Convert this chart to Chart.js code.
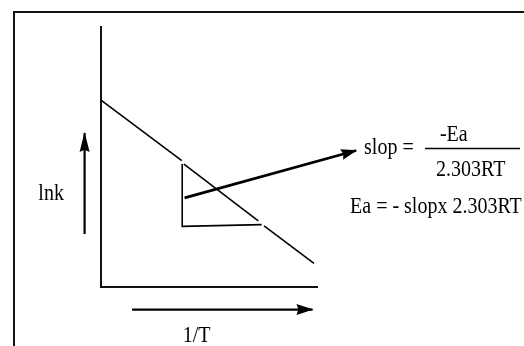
<!DOCTYPE html>
<html>
<head>
<meta charset="utf-8">
<script src="https://cdn.jsdelivr.net/npm/chart.js@4.4.1/dist/chart.umd.min.js"></script>
<style>
  html, body { margin: 0; padding: 0; background: #fff; overflow: hidden; }
  #wrap { position: relative; width: 524px; height: 346px; }
  #frame { position: absolute; left: 13px; top: 11px; width: 600px; height: 400px;
           border-left: 2px solid #111; border-top: 2px solid #111; pointer-events: none; }
</style>
</head>
<body>
<div id="wrap">
  <canvas id="arrhenius_chart" width="524" height="346"></canvas>
  <div id="frame"></div>
</div>
<script>
// Línea de Arrhenius: lnk frente a 1/T
const lineX = [0, 3.74, 3.84, 7.28, 7.55, 9.86];
const lineY = [7.19, 4.86, 4.73, 2.54, 2.35, 0.91];
const gapSegments = [1, 3]; // huecos donde toca el triángulo

// Triángulo de la pendiente
const triangleX = [3.76, 3.76, 7.44];
const triangleY = [4.73, 2.33, 2.40];

// Flechas
const slopeArrowX = [3.87, 11.81];
const slopeArrowY = [3.43, 5.25];
const yArrowX = [-0.76, -0.76];
const yArrowY = [2.04, 5.92];
const xArrowX = [1.44, 9.79];
const xArrowY = [-0.87, -0.87];

// Textos
const yLabel = 'lnk';
const xLabel = '1/T';
const slopeText = 'slop =';
const numeratorText = '-Ea';
const denominatorText = '2.303RT';
const eaText = 'Ea = - slopx 2.303RT';

const toPoints = (xs, ys) => xs.map((x, i) => ({x: x, y: ys[i]}));
const FONT = '20px "Liberation Serif", "Times New Roman", serif';
const STRETCH = 1.16; // el texto original está un poco alargado en vertical

const lineStyle = (width) => ({
    showLine: true,
    pointRadius: 0,
    borderColor: '#000',
    backgroundColor: '#000',
    borderWidth: width,
    clip: false,
    tension: 0
});

// Puntas de flecha dibujadas con la dirección del último tramo
const arrowHeads = {
    id: 'arrowHeads',
    afterDatasetsDraw(chart) {
        const ctx = chart.ctx;
        chart.data.datasets.forEach((ds, i) => {
            if (!ds.arrow) return;
            const pts = chart.getDatasetMeta(i).data;
            const a = pts[pts.length - 2], b = pts[pts.length - 1];
            const ang = Math.atan2(b.y - a.y, b.x - a.x);
            const len = ds.arrow.len, half = ds.arrow.half;
            ctx.save();
            ctx.translate(b.x, b.y);
            ctx.rotate(ang);
            ctx.fillStyle = '#000';
            ctx.beginPath();
            ctx.moveTo(1, 0);
            ctx.lineTo(-len, -half);
            ctx.lineTo(-len * 0.88, 0);
            ctx.lineTo(-len, half);
            ctx.closePath();
            ctx.fill();
            ctx.restore();
        });
    }
};

// Etiquetas y fórmula
const labels = {
    id: 'labels',
    afterDraw(chart) {
        const ctx = chart.ctx;
        const sx = chart.scales.x, sy = chart.scales.y;
        const px = v => sx.getPixelForValue(v);
        const py = v => sy.getPixelForValue(v);
        const text = (str, x, y) => {
            ctx.save();
            ctx.translate(px(x), py(y));
            ctx.scale(1, STRETCH);
            ctx.fillText(str, 0, 0);
            ctx.restore();
        };
        ctx.save();
        ctx.fillStyle = '#000';
        ctx.font = FONT;
        ctx.textBaseline = 'alphabetic';
        ctx.textAlign = 'left';
        text(yLabel, -2.90, 3.35);
        text(xLabel, 3.78, -2.12);
        text(slopeText, 12.18, 5.13);
        text(numeratorText, 15.69, 5.62);
        text(denominatorText, 15.51, 4.27);
        text(eaText, 11.53, 2.85);
        // barra de la fracción
        ctx.strokeStyle = '#000';
        ctx.lineWidth = 1.5;
        ctx.beginPath();
        ctx.moveTo(px(15.0), py(5.33));
        ctx.lineTo(px(19.4), py(5.33));
        ctx.stroke();
        ctx.restore();
    }
};

const ctxArrhenius = document.getElementById('arrhenius_chart').getContext('2d');
const arrheniusChart = new Chart(ctxArrhenius, {
    type: 'scatter',
    data: {
        datasets: [
            Object.assign(lineStyle(1.6), {
                label: 'lnk',
                data: toPoints(lineX, lineY),
                segment: {
                    borderColor: c => gapSegments.includes(c.p0DataIndex) ? 'rgba(0,0,0,0)' : '#000'
                }
            }),
            Object.assign(lineStyle(1.6), {
                label: 'triangle',
                data: toPoints(triangleX, triangleY)
            }),
            Object.assign(lineStyle(2.8), {
                label: 'slope arrow',
                data: toPoints(slopeArrowX, slopeArrowY),
                arrow: {len: 15, half: 5.5}
            }),
            Object.assign(lineStyle(2.2), {
                label: 'y arrow',
                data: toPoints(yArrowX, yArrowY),
                arrow: {len: 19, half: 5}
            }),
            Object.assign(lineStyle(2.2), {
                label: 'x arrow',
                data: toPoints(xArrowX, xArrowY),
                arrow: {len: 16, half: 5.5}
            })
        ]
    },
    options: {
        responsive: false,
        animation: false,
        events: [],
        layout: {
            padding: {left: 101, top: 27, right: 207, bottom: 59}
        },
        plugins: {
            legend: {display: false},
            tooltip: {enabled: false}
        },
        scales: {
            x: {
                type: 'linear',
                min: 0,
                max: 10,
                grid: {display: false, drawTicks: false},
                ticks: {display: false},
                border: {display: true, color: '#111', width: 2}
            },
            y: {
                type: 'linear',
                min: 0,
                max: 10,
                grid: {display: false, drawTicks: false},
                ticks: {display: false},
                border: {display: true, color: '#111', width: 2}
            }
        }
    },
    plugins: [arrowHeads, labels]
});
</script>
</body>
</html>
